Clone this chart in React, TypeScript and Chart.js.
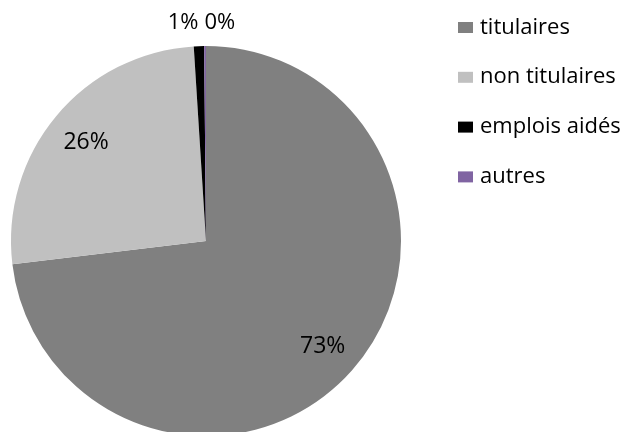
import React, { useEffect, useRef } from "react";
import { Chart, registerables } from "chart.js";

Chart.register(...registerables);

const categories = ["titulaires", "non titulaires", "emplois aidés", "autres"];
const shares = [73.1, 25.9, 0.85, 0.15];
const colors = ["#808080", "#c0c0c0", "#000000", "#8064a2"];

const FONT = "'Open Sans', 'DejaVu Sans', sans-serif";

const pctLabelPlugin = {
  id: "pctLabels",
  afterDatasetsDraw(chart: any) {
    const ctx = chart.ctx;
    const meta = chart.getDatasetMeta(0);
    const data: number[] = chart.data.datasets[0].data;
    const total = data.reduce((a, b) => a + b, 0);
    const outside: any[] = [];
    ctx.save();
    ctx.fillStyle = "#000";
    ctx.textAlign = "center";
    ctx.textBaseline = "alphabetic";
    meta.data.forEach((arc: any, i: number) => {
      const p = arc.getProps(["startAngle", "endAngle", "outerRadius", "x", "y"], true);
      const mid = (p.startAngle + p.endAngle) / 2;
      const pct = (data[i] / total) * 100;
      const text = Math.round(pct) + "%";
      if (pct >= 5) {
        const size = 23;
        ctx.font = `${size}px ${FONT}`;
        const r = p.outerRadius * 0.8;
        const cx = p.x + Math.cos(mid) * r;
        const cy = p.y + Math.sin(mid) * r;
        ctx.fillText(text, cx, cy + size * 0.36);
      } else {
        const r = p.outerRadius + 25;
        outside.push({ text, x: p.x + Math.cos(mid) * r, y: p.y + Math.sin(mid) * r });
      }
    });
    const size = 22;
    ctx.font = `${size}px ${FONT}`;
    outside.forEach((o) => (o.w = ctx.measureText(o.text).width));
    outside.sort((a, b) => a.x - b.x);
    const gap = 6;
    if (outside.length > 1) {
      const totalW = outside.reduce((s, o) => s + o.w, 0) + gap * (outside.length - 1);
      const meanX = outside.reduce((s, o) => s + o.x, 0) / outside.length;
      let left = meanX - totalW / 2;
      outside.forEach((o) => {
        o.x = left + o.w / 2;
        left += o.w + gap;
      });
    }
    outside.forEach((o) => ctx.fillText(o.text, o.x, o.y + size * 0.36));
    ctx.restore();
  },
};

const legendPlugin = {
  id: "customLegend",
  afterDraw(chart: any) {
    const ctx = chart.ctx;
    const labels: string[] = chart.data.labels;
    const bg: string[] = chart.data.datasets[0].backgroundColor;
    const x0 = chart.chartArea.right + 57;
    const top = 22;
    const step = 49.8;
    ctx.save();
    ctx.font = `22px ${FONT}`;
    ctx.textAlign = "left";
    ctx.textBaseline = "alphabetic";
    labels.forEach((lab, i) => {
      const y = top + step * i;
      ctx.fillStyle = bg[i];
      ctx.fillRect(x0, y, 15, 11);
      ctx.fillStyle = "#000";
      ctx.fillText(lab, x0 + 22, y + 11.5);
    });
    ctx.restore();
  },
};

export default function App() {
  const ref = useRef<HTMLCanvasElement | null>(null);
  useEffect(() => {
    if (!ref.current) return;
    const chart = new Chart(ref.current, {
      type: "pie",
      data: {
        labels: categories,
        datasets: [
          {
            data: shares,
            backgroundColor: colors,
            borderWidth: 0,
          },
        ],
      },
      options: {
        responsive: false,
        animation: false,
        devicePixelRatio: 1,
        layout: { padding: { left: 11, right: 227, top: 46, bottom: 44 } },
        plugins: {
          legend: { display: false },
          tooltip: { enabled: false },
        },
      },
      plugins: [pctLabelPlugin, legendPlugin],
    });
    return () => chart.destroy();
  }, []);
  return (
    <div
      style={{
        position: "absolute",
        left: 0,
        top: 0,
        width: 628,
        height: 432,
        overflow: "hidden",
        background: "#fff",
      }}
    >
      <canvas ref={ref} width={628} height={480} style={{ display: "block" }} />
    </div>
  );
}
